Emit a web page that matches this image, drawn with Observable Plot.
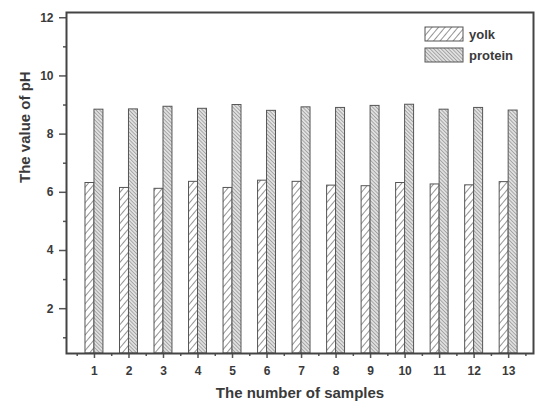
<!DOCTYPE html>
<html>
<head>
<meta charset="utf-8">
<script src="https://cdn.jsdelivr.net/npm/d3@7"></script>
<script src="https://cdn.jsdelivr.net/npm/@observablehq/plot@0.6"></script>
<style>
  html, body { margin: 0; padding: 0; background: #fff; }
  #chart { position: relative; width: 540px; height: 408px; }
</style>
</head>
<body>
<div id="chart"></div>
<script>
const samples = [1, 2, 3, 4, 5, 6, 7, 8, 9, 10, 11, 12, 13];
const yolk = [6.32, 6.15, 6.12, 6.36, 6.15, 6.40, 6.36, 6.23, 6.21, 6.32, 6.27, 6.24, 6.35];
const protein = [8.84, 8.85, 8.94, 8.87, 9.00, 8.80, 8.92, 8.90, 8.97, 9.01, 8.84, 8.90, 8.81];
const seriesNames = ["yolk", "protein"];
const yTicks = [2, 4, 6, 8, 10, 12];
const yMinorTicks = [1, 3, 5, 7, 9, 11];
const xMinorTicks = [0.5, 1.5, 2.5, 3.5, 4.5, 5.5, 6.5, 7.5, 8.5, 9.5, 10.5, 11.5, 12.5, 13.5];
const xLabel = "The number of samples";
const yLabel = "The value of pH";

const yMin = 0.46, yMax = 12.18;
const xMin = 0.19, xMax = 13.72;
const barW = 0.26;
const data = samples.map((s, i) => ({sample: s, yolk: yolk[i], protein: protein[i]}));

const ink = "#3a3a3a";
const line = "#555";
const font = "'Liberation Sans', Arial, sans-serif";

const plot = Plot.plot({
  width: 540,
  height: 408,
  marginLeft: 66,
  marginRight: 7,
  marginTop: 12,
  marginBottom: 55,
  x: {domain: [xMin, xMax]},
  y: {domain: [yMin, yMax]},
  style: {fontFamily: font, fontWeight: "bold", fontSize: "12px", color: ink, background: "#fff"},
  marks: [
    Plot.rect(data, {x1: d => d.sample - barW, x2: "sample", y1: yMin, y2: "yolk",
      fill: "url(#yolkPat)", stroke: line, strokeWidth: 1}),
    Plot.rect(data, {x1: "sample", x2: d => d.sample + barW, y1: yMin, y2: "protein",
      fill: "url(#proteinPat)", stroke: line, strokeWidth: 1}),
    Plot.axisY({ticks: yTicks, tickSize: 7, tickPadding: 6, label: null, stroke: line, strokeWidth: 1.5, fontSize: 12, fontWeight: "bold"}),
    Plot.axisY({ticks: yMinorTicks, tickSize: 3, text: null, label: null, stroke: line, strokeWidth: 1.5}),
    Plot.axisX({ticks: samples, tickSize: 5, tickPadding: 8, label: null, stroke: line, strokeWidth: 1.5, fontSize: 12, fontWeight: "bold"}),
    Plot.axisX({ticks: xMinorTicks, tickSize: 3, text: null, label: null, stroke: line, strokeWidth: 1.5}),
    Plot.text([yLabel], {frameAnchor: "left", dx: -41, rotate: -90, fontSize: 15, fontWeight: "bold", fill: ink}),
    Plot.text([xLabel], {frameAnchor: "bottom", dy: 44, fontSize: 15, fontWeight: "bold", fill: ink}),
    Plot.frame({stroke: "#444", strokeWidth: 2})
  ]
});

document.getElementById("chart").appendChild(plot);

const svg = d3.select(plot);

// hatch patterns
const defs = svg.insert("defs", ":first-child");
const yp = defs.append("pattern").attr("id", "yolkPat").attr("patternUnits", "userSpaceOnUse")
  .attr("width", 5).attr("height", 5).attr("patternTransform", "rotate(40)");
yp.append("rect").attr("width", 5).attr("height", 5).attr("fill", "#fff");
yp.append("line").attr("x1", 0).attr("y1", 0).attr("x2", 0).attr("y2", 5).attr("stroke", "#666").attr("stroke-width", 1.4);
const pp = defs.append("pattern").attr("id", "proteinPat").attr("patternUnits", "userSpaceOnUse")
  .attr("width", 2.6).attr("height", 2.6).attr("patternTransform", "rotate(-45)");
pp.append("rect").attr("width", 2.6).attr("height", 2.6).attr("fill", "#e0e0e0");
pp.append("line").attr("x1", 0).attr("y1", 0).attr("x2", 0).attr("y2", 2.6).attr("stroke", "#707070").attr("stroke-width", 1);

// legend inside the frame (top-right)
const legend = svg.append("g").attr("font-family", font).attr("font-weight", "bold").attr("font-size", 13).attr("fill", ink).attr("text-anchor", "start");
seriesNames.forEach((name, i) => {
  const g = legend.append("g").attr("transform", `translate(425,${27 + i * 21})`);
  g.append("rect").attr("width", 38).attr("height", 14)
    .attr("fill", i === 0 ? "url(#yolkPat)" : "url(#proteinPat)").attr("stroke", line).attr("stroke-width", 1);
  g.append("text").attr("x", 44).attr("y", 7).attr("dy", "0.35em").attr("text-anchor", "start").text(name);
});
</script>
</body>
</html>
